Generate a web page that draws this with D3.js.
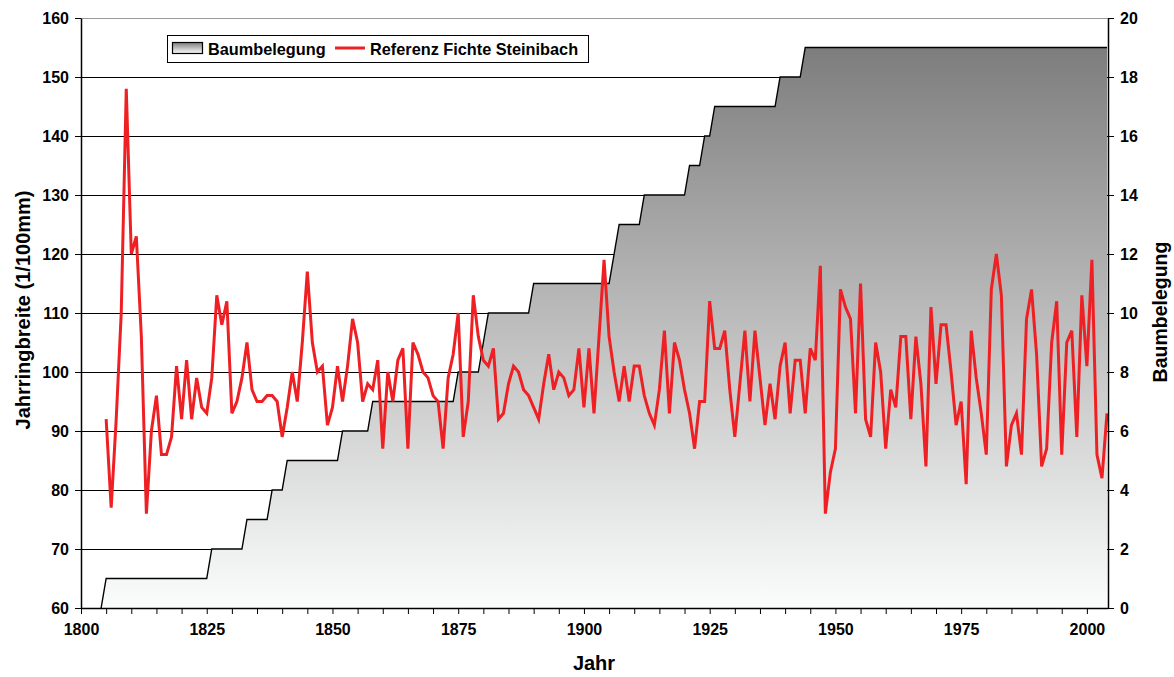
<!DOCTYPE html>
<html>
<head>
<meta charset="utf-8">
<script src="https://cdn.jsdelivr.net/npm/d3@7"></script>
<style>
  body { margin: 0; background: #fff; }
  svg text { font-family: "Liberation Sans", Arial, sans-serif; font-weight: bold; fill: #000; }
</style>
</head>
<body>
<svg id="chart" width="1174" height="677"></svg>
<script>
// ---- data ----
const refStartYear = 1805;
const refValues = [
  92, 77, 92, 110, 148, 120, 123, 106, 76, 90,      // 1805-1814
  96, 86, 86, 89, 101, 92, 102, 92, 99, 94,         // 1815-1824
  93, 99, 113, 108, 112, 93, 95, 99, 105, 97,       // 1825-1834
  95, 95, 96, 96, 95, 89, 94, 100, 95, 105,         // 1835-1844
  117, 105, 100, 101, 91, 94, 101, 95, 101, 109,    // 1845-1854
  105, 95, 98, 97, 102, 87, 100, 95, 102, 104,      // 1855-1864
  87, 105, 103, 100, 99, 96, 95, 87, 99, 103,       // 1865-1874
  110, 89, 95, 113, 106, 102, 101, 104, 92, 93,     // 1875-1884
  98, 101, 100, 97, 96, 94, 92, 98, 103, 97,        // 1885-1894
  100, 99, 96, 97, 104, 94, 104, 93, 106, 119,      // 1895-1904
  106, 100, 95, 101, 95, 101, 101, 96, 93, 91,      // 1905-1914
  97, 107, 93, 105, 102, 97, 93, 87, 95, 95,        // 1915-1924
  112, 104, 104, 107, 97, 89, 98, 107, 95, 107,     // 1925-1934
  99, 91, 98, 92, 101, 105, 93, 102, 102, 93,       // 1935-1944
  104, 102, 118, 76, 83, 87, 114, 111, 109, 93,     // 1945-1954
  115, 92, 89, 105, 100, 87, 97, 94, 106, 106,      // 1955-1964
  92, 106, 98, 84, 111, 98, 108, 108, 100, 91,      // 1965-1974
  95, 81, 107, 99, 93, 86, 114, 120, 113, 84,       // 1975-1984
  91, 93, 86, 109, 114, 103, 84, 87, 105, 112,      // 1985-1994
  86, 105, 107, 89, 113, 101, 119, 86, 82, 93       // 1995-2004
];
const countStartYear = 1804;
const countValues = [
  0,                                                 // 1804
  1,1,1,1,1,1,1,1,1,1,1,1,1,1,1,1,1,1,1,1,1,         // 1805-1825
  2,2,2,2,2,2,2,                                     // 1826-1832
  3,3,3,3,3,                                         // 1833-1837
  4,4,4,                                             // 1838-1840
  5,5,5,5,5,5,5,5,5,5,5,                             // 1841-1851
  6,6,6,6,6,6,                                       // 1852-1857
  7,7,7,7,7,7,7,7,7,7,7,7,7,7,7,7,7,                 // 1858-1874
  8,8,8,8,8,                                         // 1875-1879
  9,                                                 // 1880
  10,10,10,10,10,10,10,10,10,                        // 1881-1889
  11,11,11,11,11,11,11,11,11,11,11,11,11,11,11,11,   // 1890-1905
  12,                                                // 1906
  13,13,13,13,13,                                    // 1907-1911
  14,14,14,14,14,14,14,14,14,                        // 1912-1920
  15,15,15,                                          // 1921-1923
  16,16,                                             // 1924-1925
  17,17,17,17,17,17,17,17,17,17,17,17,17,            // 1926-1938
  18,18,18,18,18,                                    // 1939-1943
  19,19,19,19,19,19,19,19,19,19,19,19,19,19,19,19,19,19,19,19, // 1944-1963
  19,19,19,19,19,19,19,19,19,19,19,19,19,19,19,19,19,19,19,19, // 1964-1983
  19,19,19,19,19,19,19,19,19,19,19,19,19,19,19,19,19,19,19,19,19 // 1984-2004
];
const leftTicks = [60, 70, 80, 90, 100, 110, 120, 130, 140, 150, 160];
const rightTicks = [0, 2, 4, 6, 8, 10, 12, 14, 16, 18, 20];
const xLabelYears = [1800, 1825, 1850, 1875, 1900, 1925, 1950, 1975, 2000];
const xMinorYears = d3.range(1800, 2001, 5);

const refData = refValues.map((v, i) => ({ year: refStartYear + i, v }));
const countData = countValues.map((v, i) => ({ year: countStartYear + i, v }));

// ---- layout ----
const L = 81, R = 1108, T = 18, B = 608;
const svg = d3.select("#chart");
const x = d3.scaleLinear().domain([1800, 2004.2]).range([L, R]);
const yL = d3.scaleLinear().domain([60, 160]).range([B, T]);
const yR = d3.scaleLinear().domain([0, 20]).range([B, T]);

// gradient
const defs = svg.append("defs");
const grad = defs.append("linearGradient").attr("id", "g1")
  .attr("x1", 0).attr("y1", 0).attr("x2", 0).attr("y2", 1);
grad.append("stop").attr("offset", "0%").attr("stop-color", "#7d7d7d");
grad.append("stop").attr("offset", "55%").attr("stop-color", "#c4c4c4");
grad.append("stop").attr("offset", "100%").attr("stop-color", "#fbfcfc");

// gridlines
svg.append("g").selectAll("line").data(leftTicks.filter(d => d > 60 && d < 160)).join("line")
  .attr("x1", L).attr("x2", R).attr("y1", d => yL(d)).attr("y2", d => yL(d))
  .attr("stroke", "#000").attr("stroke-width", 1).attr("shape-rendering", "crispEdges");
svg.append("line").attr("x1", L).attr("x2", R).attr("y1", yL(160)).attr("y2", yL(160))
  .attr("stroke", "#9a9a9a").attr("stroke-width", 1).attr("shape-rendering", "crispEdges");

// area
const area = d3.area().x(d => x(d.year)).y0(yR(0)).y1(d => yR(d.v));
svg.append("path").datum(countData).attr("d", area).attr("fill", "url(#g1)");
const topLine = d3.line().x(d => x(d.year)).y(d => yR(d.v));
svg.append("path").datum(countData).attr("d", topLine)
  .attr("fill", "none").attr("stroke", "#000").attr("stroke-width", 1.4);

// red line
const line = d3.line().x(d => x(d.year)).y(d => yL(d.v));
svg.append("path").datum(refData).attr("d", line)
  .attr("fill", "none").attr("stroke", "#ee2024").attr("stroke-width", 3)
  .attr("stroke-linejoin", "miter").attr("stroke-miterlimit", 4);

// axes
const leftAxis = d3.axisLeft(yL).tickValues(leftTicks).tickSize(6).tickPadding(6).tickSizeOuter(0);
const gL = svg.append("g").attr("transform", `translate(${L},0)`).call(leftAxis);
const rightAxis = d3.axisRight(yR).tickValues(rightTicks).tickSize(6).tickPadding(6).tickSizeOuter(0);
const gR = svg.append("g").attr("transform", `translate(${R},0)`).call(rightAxis);
const bottomAxis = d3.axisBottom(x).tickValues(xMinorYears).tickSize(6)
  .tickFormat(d => xLabelYears.includes(d) ? d : "").tickPadding(10).tickSizeOuter(0);
const gB = svg.append("g").attr("transform", `translate(0,${B})`).call(bottomAxis);
[gL, gR, gB].forEach(g => {
  g.selectAll(".domain").attr("stroke", "#000").attr("stroke-width", 1.5);
  g.selectAll(".tick line").attr("stroke", "#000").attr("stroke-width", 1);
  g.selectAll("text").attr("font-size", 16).attr("font-family", "'Liberation Sans', Arial, sans-serif").attr("font-weight", "bold");
});

// axis titles
svg.append("text").attr("transform", "translate(29.5,310) rotate(-90)")
  .attr("text-anchor", "middle").attr("font-size", 20).text("Jahrringbreite (1/100mm)");
svg.append("text").attr("transform", "translate(1167,312) rotate(-90)")
  .attr("text-anchor", "middle").attr("font-size", 19.5).text("Baumbelegung");
svg.append("text").attr("x", 594).attr("y", 670)
  .attr("text-anchor", "middle").attr("font-size", 20).text("Jahr");

// legend
const lg = svg.append("g");
lg.append("rect").attr("x", 167.5).attr("y", 35.5).attr("width", 421).attr("height", 27)
  .attr("fill", "#fff").attr("stroke", "#000").attr("stroke-width", 1);
lg.append("rect").attr("x", 172.5).attr("y", 42.5).attr("width", 30).attr("height", 11)
  .attr("fill", "url(#g1)").attr("stroke", "#000").attr("stroke-width", 1.2);
lg.append("text").attr("x", 208).attr("y", 54.5).attr("font-size", 16.3).text("Baumbelegung");
lg.append("line").attr("x1", 335).attr("x2", 365).attr("y1", 48).attr("y2", 48)
  .attr("stroke", "#ee2024").attr("stroke-width", 3);
lg.append("text").attr("x", 370).attr("y", 54.5).attr("font-size", 16.3).text("Referenz Fichte Steinibach");
</script>
</body>
</html>
